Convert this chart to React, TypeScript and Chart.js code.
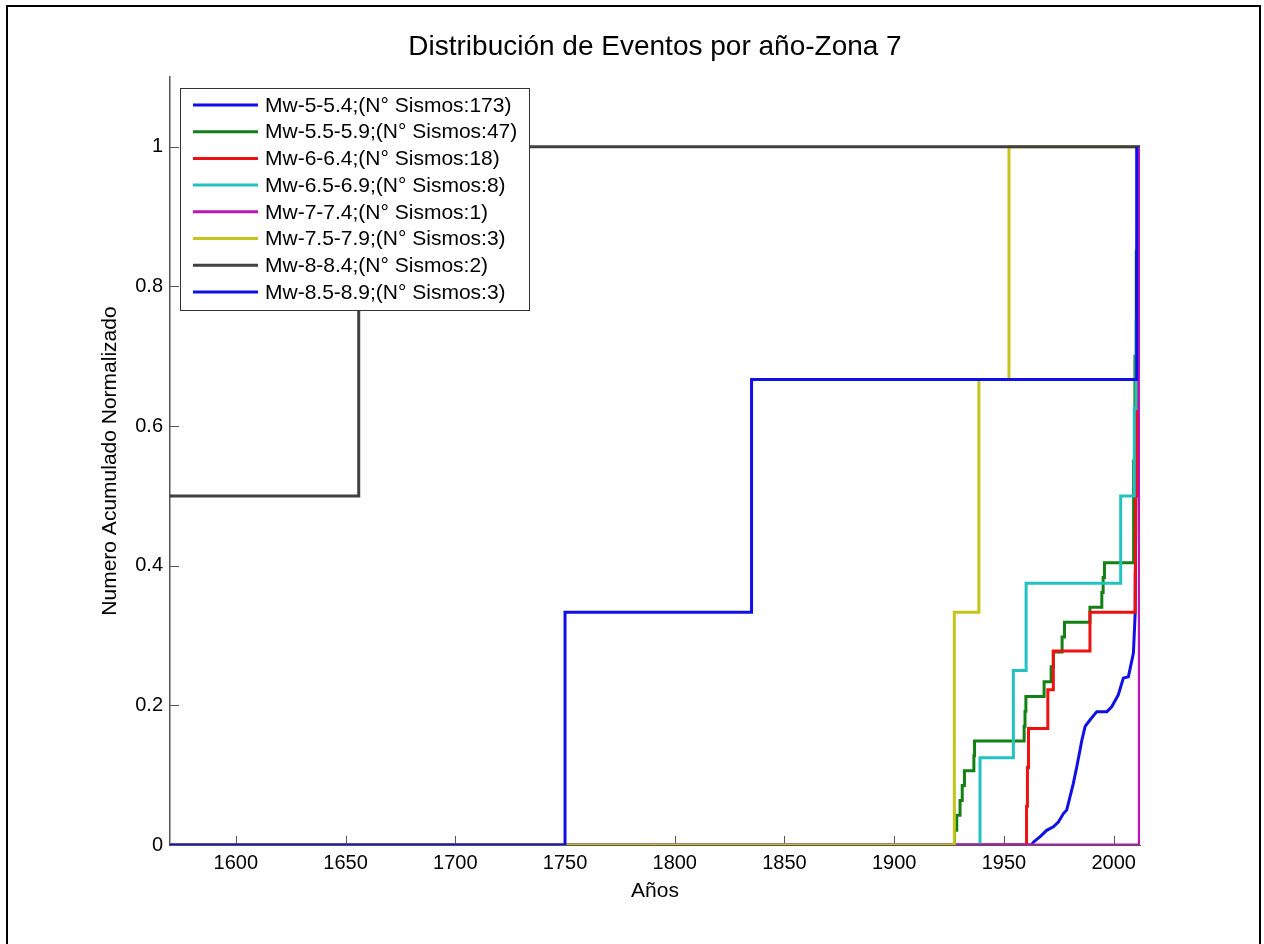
import React, { useEffect, useRef } from "react";
import { Chart, registerables } from "chart.js";

Chart.register(...registerables);

const FONT = '"Liberation Sans", Arial, Helvetica, sans-serif';

const titleText = "Distribución de Eventos por año-Zona 7";
const xAxisTitle = "Años";
const yAxisTitle = "Numero Acumulado Normalizado";

const seriesLabels = [
  "Mw-5-5.4;(N° Sismos:173)",
  "Mw-5.5-5.9;(N° Sismos:47)",
  "Mw-6-6.4;(N° Sismos:18)",
  "Mw-6.5-6.9;(N° Sismos:8)",
  "Mw-7-7.4;(N° Sismos:1)",
  "Mw-7.5-7.9;(N° Sismos:3)",
  "Mw-8-8.4;(N° Sismos:2)",
  "Mw-8.5-8.9;(N° Sismos:3)",
];

const seriesColors = [
  "#0f0fe6",
  "#138013",
  "#ee1111",
  "#22c2c2",
  "#bb14bb",
  "#c4c41c",
  "#404040",
  "#0f0fe6",
];

// Mw 5-5.4 (173 events) - read as a cumulative curve
const mw50Years = [1570, 1962.5, 1963.4, 1966.5, 1969.5, 1972.5, 1974.8, 1977.1, 1978.6, 1980.1, 1981.6, 1983.2, 1985.5, 1987, 1989.2, 1992.3, 1996.9, 1999.1, 2002.1, 2004.4, 2006.7, 2009, 2009.8, 2010.6, 2011.3];
const mw50Values = [0, 0, 0.004, 0.012, 0.021, 0.026, 0.033, 0.045, 0.05, 0.069, 0.088, 0.112, 0.15, 0.17, 0.179, 0.191, 0.191, 0.198, 0.215, 0.239, 0.241, 0.275, 0.332, 0.75, 1];

// Mw 5.5-5.9 (47 events)
const mw55Years = [1570, 1927.5, 1928.5, 1930, 1931, 1932, 1936.3, 1936.6, 1959.2, 1959.6, 1960, 1968.3, 1971.5, 1972.5, 1976.5, 1977.6, 1989.2, 1994.6, 1995.2, 1995.8, 2009.1, 2009.7, 2010.3, 2011];
const mw55Values = [0, 0.0213, 0.0426, 0.0638, 0.0851, 0.1064, 0.1277, 0.149, 0.1702, 0.1915, 0.2128, 0.234, 0.2553, 0.2766, 0.2979, 0.3191, 0.3404, 0.3617, 0.383, 0.4043, 0.55, 0.7, 0.85, 1];

// Mw 6-6.4 (18 events)
const mw60Years = [1570, 1960.3, 1960.7, 1961.2, 1970, 1972.5, 1989.2, 2009.8, 2009.9, 2010, 2010.6, 2011.2];
const mw60Values = [0, 0.0556, 0.1111, 0.1667, 0.2222, 0.2778, 0.3333, 0.3889, 0.4444, 0.5, 0.7222, 1];

// Mw 6.5-6.9 (8 events)
const mw65Years = [1570, 1939.1, 1954.3, 1960.1, 2003.2, 2009.4, 2010.2, 2010.8, 2011.3];
const mw65Values = [0, 0.125, 0.25, 0.375, 0.5, 0.625, 0.75, 0.875, 1];

// Mw 7-7.4 (1 event)
const mw70Years = [1570, 2011.7];
const mw70Values = [0, 1];

// Mw 7.5-7.9 (3 events)
const mw75Years = [1570, 1927.4, 1938.6, 1952.3, 2012];
const mw75Values = [0, 0.3333, 0.6667, 1, 1];

// Mw 8-8.4 (2 events)
const mw80Years = [1570, 1656, 2012];
const mw80Values = [0.5, 1, 1];

// Mw 8.5-8.9 (3 events)
const mw85Years = [1570, 1750, 1835, 2010.5];
const mw85Values = [0, 0.3333, 0.6667, 1];

const seriesYears = [mw50Years, mw55Years, mw60Years, mw65Years, mw70Years, mw75Years, mw80Years, mw85Years];
const seriesValues = [mw50Values, mw55Values, mw60Values, mw65Values, mw70Values, mw75Values, mw80Values, mw85Values];
const seriesStepped = [false, true, true, true, true, true, true, true];

const xTickValues = [1600, 1650, 1700, 1750, 1800, 1850, 1900, 1950, 2000];
const yTickValues = [0, 0.2, 0.4, 0.6, 0.8, 1];
const xMin = 1570;
const xMax = 2012;
const yMin = 0;
const yMax = 1.1;

const innerTicksPlugin = {
  id: "innerTicks",
  beforeDatasetsDraw(chart: any) {
    const { ctx, chartArea, scales } = chart;
    ctx.save();
    ctx.strokeStyle = "#555";
    ctx.lineWidth = 1;
    ctx.beginPath();
    for (const v of xTickValues) {
      const px = Math.round(scales.x.getPixelForValue(v)) + 0.5;
      ctx.moveTo(px, chartArea.bottom);
      ctx.lineTo(px, chartArea.bottom - 9);
    }
    for (const v of yTickValues) {
      const py = Math.round(scales.y.getPixelForValue(v)) + 0.5;
      ctx.moveTo(chartArea.left, py);
      ctx.lineTo(chartArea.left + 9, py);
    }
    ctx.stroke();
    ctx.restore();
  },
};

const boxLegendPlugin = {
  id: "boxLegend",
  afterDatasetsDraw(chart: any) {
    const { ctx, chartArea } = chart;
    const left = chartArea.left + 10;
    const top = chartArea.top + 11;
    const width = 349;
    const rowH = 26.7;
    const height = 222;
    ctx.save();
    ctx.fillStyle = "#fff";
    ctx.fillRect(left, top, width, height);
    ctx.strokeStyle = "#333";
    ctx.lineWidth = 1;
    ctx.strokeRect(left + 0.5, top + 0.5, width, height);
    ctx.font = `21px ${FONT}`;
    ctx.textBaseline = "middle";
    ctx.textAlign = "left";
    seriesLabels.forEach((label, i) => {
      const y = top + 17 + i * rowH;
      ctx.strokeStyle = seriesColors[i];
      ctx.lineWidth = 3;
      ctx.beginPath();
      ctx.moveTo(left + 13, y);
      ctx.lineTo(left + 78, y);
      ctx.stroke();
      ctx.fillStyle = "#000";
      ctx.fillText(label, left + 85, y + 1);
    });
    ctx.restore();
  },
};

export default function App() {
  const canvasRef = useRef<HTMLCanvasElement | null>(null);

  useEffect(() => {
    if (!canvasRef.current) return;
    const n = seriesLabels.length;
    const datasets = seriesLabels.map((label, i) => ({
      label,
      data: seriesYears[i].map((x, k) => ({ x, y: seriesValues[i][k] })),
      borderColor: seriesColors[i],
      backgroundColor: seriesColors[i],
      borderWidth: 3,
      pointRadius: 0,
      fill: false,
      tension: 0,
      stepped: seriesStepped[i] ? ("before" as const) : false,
      order: n - 1 - i,
    }));

    const chart = new Chart(canvasRef.current, {
      type: "line",
      data: { datasets },
      options: {
        responsive: false,
        animation: false,
        devicePixelRatio: 1,
        layout: { padding: { left: 0, right: 124, top: 0, bottom: 0 } },
        plugins: {
          legend: { display: false },
          tooltip: { enabled: false },
          title: {
            display: true,
            text: titleText,
            fullSize: false,
            color: "#000",
            font: { family: FONT, size: 28, weight: "normal" },
            padding: { top: 30.2, bottom: 13.2 },
          },
        },
        scales: {
          x: {
            type: "linear",
            min: xMin,
            max: xMax,
            afterBuildTicks: (scale: any) => {
              scale.ticks = xTickValues.map((v) => ({ value: v }));
            },
            afterFit: (scale: any) => {
              scale.height = 99;
            },
            grid: { display: false, drawTicks: false },
            border: { display: true, color: "#555", width: 1 },
            ticks: {
              color: "#000",
              padding: 6,
              maxRotation: 0,
              autoSkip: false,
              font: { family: FONT, size: 20 },
              callback: (v: any) => String(v),
            },
            title: {
              display: true,
              text: xAxisTitle,
              color: "#000",
              font: { family: FONT, size: 21 },
              padding: { top: 0, bottom: 40 },
            },
          },
          y: {
            type: "linear",
            min: yMin,
            max: yMax,
            afterBuildTicks: (scale: any) => {
              scale.ticks = yTickValues.map((v) => ({ value: v }));
            },
            afterFit: (scale: any) => {
              scale.width = 170;
            },
            grid: { display: false, drawTicks: false },
            border: { display: true, color: "#555", width: 1.5 },
            ticks: {
              color: "#000",
              padding: 7,
              autoSkip: false,
              font: { family: FONT, size: 20 },
              callback: (v: any) => String(+Number(v).toFixed(1)),
            },
            title: {
              display: true,
              text: yAxisTitle,
              color: "#000",
              font: { family: FONT, size: 21 },
              padding: { top: 97.4, bottom: 0 },
            },
          },
        },
      },
      plugins: [innerTicksPlugin, boxLegendPlugin],
    });
    return () => chart.destroy();
  }, []);

  return (
    <div
      style={{
        position: "fixed",
        left: 0,
        top: 0,
        width: 1264,
        height: 944,
        background: "#fff",
        overflow: "hidden",
      }}
    >
      <canvas
        ref={canvasRef}
        width={1264}
        height={944}
        style={{ position: "absolute", left: 0, top: 0, width: 1264, height: 944 }}
      />
      <div
        style={{
          position: "absolute",
          left: 6,
          top: 5,
          width: 1255,
          height: 1000,
          boxSizing: "border-box",
          borderLeft: "2px solid #000",
          borderTop: "2px solid #000",
          borderRight: "2px solid #000",
          pointerEvents: "none",
        }}
      />
    </div>
  );
}
